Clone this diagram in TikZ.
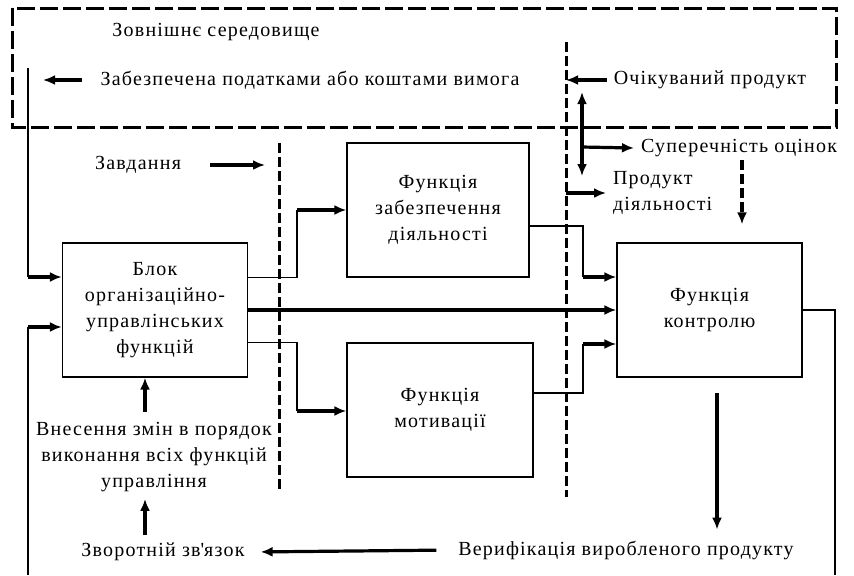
\documentclass[tikz,border=0pt]{standalone}
\usepackage{fontspec}
\setmainfont{Liberation Serif}[LetterSpace=6]
\usetikzlibrary{arrows.meta,positioning}

\begin{document}
\begin{tikzpicture}[x=0.5pt, y=-0.5pt, >={Latex[length=6pt,width=5pt]},
    font=\fontsize{10}{13}\selectfont,
    box/.style={draw, line width=0.65pt, minimum width=92.5pt, minimum height=67pt, align=center},
    wire/.style={line width=0.65pt},
    arr/.style={->, line width=1.6pt},
    bound/.style={line width=1.5pt, dash pattern=on 5pt off 2pt},
    envline/.style={line width=1.5pt, dash pattern=on 9pt off 2.5pt}]
    \useasboundingbox (0,0) rectangle (854,575);
    \draw[envline] (12,8) rectangle (836,127);

    \node[box] (blk) at (155,310) {Блок\\організаційно-\\управлінських\\функцій};
    \node[box, minimum width=91pt] (supp) at (438,210) {Функція\\забезпечення\\діяльності};
    \node[box, minimum width=93pt] (motiv) at (440,410) {Функція\\мотивації};
    \node[box] (ctrl) at (709.5,310) {Функція\\контролю};

    \node (env) at (216,32) {Зовнішнє середовище};
    \node (req) at (310,80) {Забезпечена податками або коштами вимога};
    \node (expd) at (710,80) {Очікуваний продукт};
    \node[anchor=west] (contr) at (634,148) {Суперечність оцінок};
    \node[anchor=west, align=left] (prod) at (606,193) {Продукт\\діяльності};
    \node (task) at (138,165) {Завдання};
    \node[align=center] (chg) at (154,457) {Внесення змін в порядок\\виконання всіх функцій\\управління};
    \node (fb) at (163,552) {Зворотній зв{\addfontfeatures{Ligatures=TeXOff}'}язок};
    \node (verif) at (626,550) {Верифікація виробленого продукту};

    \coordinate (e1) at (28,68);
    \coordinate (i1) at (28,277);
    \coordinate (i2) at (28,327);
    \coordinate (e2) at (28,575);
    \coordinate (e3) at (835,575);
    \coordinate (j1) at (297,210);
    \coordinate (j2) at (297,411);
    \coordinate (k3) at (583,226);
    \coordinate (j3) at (583,277);
    \coordinate (k4) at (583,393);
    \coordinate (j4) at (583,344);
    \coordinate (d1) at (279,143);
    \coordinate (d2) at (279,490);
    \coordinate (d3) at (566,42);
    \coordinate (d4) at (566,497);
    \coordinate (s0) at (582,147);
    \coordinate (su) at (582,92);
    \coordinate (sd) at (582,176);
    \coordinate (q1) at (742,160);
    \coordinate (v1) at (717,393);
    \coordinate (f1) at (145,535);
    \coordinate (c1) at (145,412);

    \draw[bound] (d1) -- (d2);
    \draw[bound] (d3) -- (d4);

    \draw[wire] (e1) -- (i1);
    \draw[arr] (i1) -- (i1 -| blk.west);
    \draw[wire] (e2) -- (i2);
    \draw[arr] (i2) -- (i2 -| blk.west);
    \draw[wire] (ctrl.east) -| (e3);

    \draw[wire] (blk.east |- supp.south) -| (j1);
    \draw[arr] (j1) -- (j1 -| supp.west);
    \draw[wire] (blk.east |- motiv.north) -| (j2);
    \draw[arr] (j2) -- (j2 -| motiv.west);
    \draw[arr] (blk.east) -- (ctrl.west);
    \draw[wire] (k3 -| supp.east) -- (k3) -- (j3);
    \draw[arr] (j3) -- (j3 -| ctrl.west);
    \draw[wire] (k4 -| motiv.east) -- (k4) -- (j4);
    \draw[arr] (j4) -- (j4 -| ctrl.west);

    \draw[arr, shorten <=6pt, shorten >=7.5pt] (req.west) -- (req.west -| e1);
    \draw[arr] (expd.west) -- (expd.west -| d3);
    \draw[arr, shorten <=11pt, shorten >=7pt] (task.east) -- (task.east -| d1);
    \draw[arr] (s0) -- (su);
    \draw[arr] (s0) -- (sd);
    \draw[arr] (s0) -- (contr.west);
    \draw[arr] (d3 |- prod.west) -- (prod.west);
    \draw[arr, dash pattern=on 5pt off 2pt, shorten >=9pt] (q1) -- (q1 |- ctrl.north);
    \draw[arr, shorten >=2pt] (v1) -- (v1 |- verif.north);
    \draw[arr, shorten <=7.5pt, shorten >=4.5pt] (verif.west) -- (fb.east);
    \draw[arr] (f1) -- (f1 |- chg.south);
    \draw[arr] (c1) -- (c1 |- blk.south);
\end{tikzpicture}
\end{document}
